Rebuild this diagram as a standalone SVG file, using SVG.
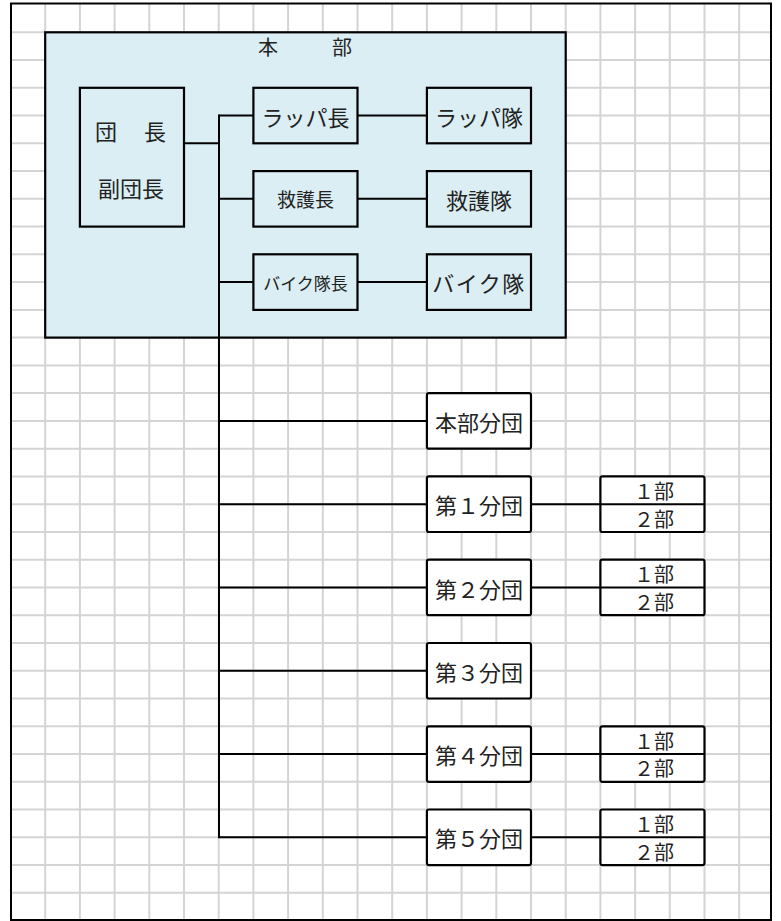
<svg xmlns="http://www.w3.org/2000/svg" width="781" height="921" viewBox="0 0 781 921">
<style>
.grid line{stroke:#d4d4d4;stroke-width:2}
.box{stroke:#000;stroke-width:2.2}
.blue{fill:#daeef3}
.white{fill:#fff}
.conn line{stroke:#000;stroke-width:2}
text{font-family:"Noto Sans CJK JP","Noto Sans CJK SC",sans-serif;fill:#222;text-anchor:middle;dominant-baseline:central}
</style>
<rect x="0" y="0" width="781" height="921" fill="#fff"/>
<g class="grid" id="grid">
<line x1="45.2" y1="4" x2="45.2" y2="920"/>
<line x1="79.9" y1="4" x2="79.9" y2="920"/>
<line x1="114.6" y1="4" x2="114.6" y2="920"/>
<line x1="149.3" y1="4" x2="149.3" y2="920"/>
<line x1="184" y1="4" x2="184" y2="920"/>
<line x1="218.7" y1="4" x2="218.7" y2="920"/>
<line x1="253.4" y1="4" x2="253.4" y2="920"/>
<line x1="288.1" y1="4" x2="288.1" y2="920"/>
<line x1="322.8" y1="4" x2="322.8" y2="920"/>
<line x1="357.5" y1="4" x2="357.5" y2="920"/>
<line x1="392.2" y1="4" x2="392.2" y2="920"/>
<line x1="426.9" y1="4" x2="426.9" y2="920"/>
<line x1="461.6" y1="4" x2="461.6" y2="920"/>
<line x1="496.3" y1="4" x2="496.3" y2="920"/>
<line x1="531" y1="4" x2="531" y2="920"/>
<line x1="565.7" y1="4" x2="565.7" y2="920"/>
<line x1="600.4" y1="4" x2="600.4" y2="920"/>
<line x1="635.1" y1="4" x2="635.1" y2="920"/>
<line x1="669.8" y1="4" x2="669.8" y2="920"/>
<line x1="704.5" y1="4" x2="704.5" y2="920"/>
<line x1="739.2" y1="4" x2="739.2" y2="920"/>
<line x1="11" y1="32.3" x2="771" y2="32.3"/>
<line x1="11" y1="60" x2="771" y2="60"/>
<line x1="11" y1="87.8" x2="771" y2="87.8"/>
<line x1="11" y1="115.5" x2="771" y2="115.5"/>
<line x1="11" y1="143.3" x2="771" y2="143.3"/>
<line x1="11" y1="171.1" x2="771" y2="171.1"/>
<line x1="11" y1="198.8" x2="771" y2="198.8"/>
<line x1="11" y1="226.6" x2="771" y2="226.6"/>
<line x1="11" y1="254.3" x2="771" y2="254.3"/>
<line x1="11" y1="282.1" x2="771" y2="282.1"/>
<line x1="11" y1="309.9" x2="771" y2="309.9"/>
<line x1="11" y1="337.6" x2="771" y2="337.6"/>
<line x1="11" y1="365.4" x2="771" y2="365.4"/>
<line x1="11" y1="393.1" x2="771" y2="393.1"/>
<line x1="11" y1="420.9" x2="771" y2="420.9"/>
<line x1="11" y1="448.7" x2="771" y2="448.7"/>
<line x1="11" y1="476.4" x2="771" y2="476.4"/>
<line x1="11" y1="504.2" x2="771" y2="504.2"/>
<line x1="11" y1="532" x2="771" y2="532"/>
<line x1="11" y1="559.7" x2="771" y2="559.7"/>
<line x1="11" y1="587.5" x2="771" y2="587.5"/>
<line x1="11" y1="615.2" x2="771" y2="615.2"/>
<line x1="11" y1="643" x2="771" y2="643"/>
<line x1="11" y1="670.7" x2="771" y2="670.7"/>
<line x1="11" y1="698.5" x2="771" y2="698.5"/>
<line x1="11" y1="726.3" x2="771" y2="726.3"/>
<line x1="11" y1="754" x2="771" y2="754"/>
<line x1="11" y1="781.8" x2="771" y2="781.8"/>
<line x1="11" y1="809.5" x2="771" y2="809.5"/>
<line x1="11" y1="837.3" x2="771" y2="837.3"/>
<line x1="11" y1="865.1" x2="771" y2="865.1"/>
<line x1="11" y1="892.8" x2="771" y2="892.8"/>
</g>
<rect id="frame" x="11" y="3.5" width="760" height="916.5" fill="none" stroke="#000" stroke-width="2"/>
<g id="honbu">
<rect class="box blue" x="45.2" y="32.3" width="520.5" height="305.3"/>
<text font-size="20" y="46"><tspan x="268">本</tspan><tspan x="342">部</tspan></text>
</g>
<g class="conn" id="connectors">
<line x1="184" y1="143.3" x2="219" y2="143.3"/>
<line x1="219" y1="114.5" x2="219" y2="838"/>
<line x1="219" y1="115.5" x2="253.4" y2="115.5"/>
<line x1="219" y1="198.8" x2="253.4" y2="198.8"/>
<line x1="219" y1="282.1" x2="253.4" y2="282.1"/>
<line x1="357.5" y1="115.5" x2="426.9" y2="115.5"/>
<line x1="357.5" y1="198.8" x2="426.9" y2="198.8"/>
<line x1="357.5" y1="282.1" x2="426.9" y2="282.1"/>
<line x1="219" y1="420.9" x2="426.9" y2="420.9"/>
<line x1="219" y1="504.2" x2="426.9" y2="504.2"/>
<line x1="219" y1="587.5" x2="426.9" y2="587.5"/>
<line x1="219" y1="670.7" x2="426.9" y2="670.7"/>
<line x1="219" y1="754" x2="426.9" y2="754"/>
<line x1="218" y1="837.3" x2="426.9" y2="837.3"/>
<line x1="531" y1="504.2" x2="600.4" y2="504.2"/>
<line x1="531" y1="587.5" x2="600.4" y2="587.5"/>
<line x1="531" y1="754" x2="600.4" y2="754"/>
<line x1="531" y1="837.3" x2="600.4" y2="837.3"/>
</g>
<g id="danchou">
<rect class="box blue" x="79.9" y="87.8" width="104.1" height="138.8"/>
<text font-size="22" y="130"><tspan x="106">団</tspan><tspan x="155">長</tspan></text>
<text font-size="22" x="131" y="187">副団長</text>
</g>
<g id="rappachou">
<rect class="box blue" x="253.4" y="87.8" width="104.1" height="55.5"/>
<text font-size="22" x="305.5" y="115.5">ラッパ長</text>
</g>
<g id="rappatai">
<rect class="box blue" x="426.9" y="87.8" width="104.1" height="55.5"/>
<text font-size="22" x="479" y="115.5">ラッパ隊</text>
</g>
<g id="kyugochou">
<rect class="box blue" x="253.4" y="171.1" width="104.1" height="55.5"/>
<text font-size="19" x="305.5" y="198.8">救護長</text>
</g>
<g id="kyugotai">
<rect class="box blue" x="426.9" y="171.1" width="104.1" height="55.5"/>
<text font-size="22" x="479" y="198.8">救護隊</text>
</g>
<g id="baikutaichou">
<rect class="box blue" x="253.4" y="254.3" width="104.1" height="55.6"/>
<text font-size="17" x="305.5" y="282.1">バイク隊長</text>
</g>
<g id="baikutai">
<rect class="box blue" x="426.9" y="254.3" width="104.1" height="55.6"/>
<text font-size="22" x="479" y="282.1" letter-spacing="1.5">バイク隊</text>
</g>
<g id="honbubundan">
<rect class="box white" x="426.9" y="393.1" width="104.1" height="55.6" rx="2"/>
<text font-size="22" x="479" y="420.9">本部分団</text>
</g>
<g id="bundan1">
<rect class="box white" x="426.9" y="476.4" width="104.1" height="55.6" rx="2"/>
<text font-size="22" x="479" y="504.2">第１分団</text>
</g>
<g id="bu1">
<rect class="box white" x="600.4" y="476.4" width="104.1" height="55.6" rx="2"/>
<line x1="600.4" y1="504.2" x2="704.5" y2="504.2" stroke="#000" stroke-width="2"/>
<text font-size="20" x="654" y="490.5">１部</text>
<text font-size="20" x="654" y="518">２部</text>
</g>
<g id="bundan2">
<rect class="box white" x="426.9" y="559.7" width="104.1" height="55.5" rx="2"/>
<text font-size="22" x="479" y="587.5">第２分団</text>
</g>
<g id="bu2">
<rect class="box white" x="600.4" y="559.7" width="104.1" height="55.5" rx="2"/>
<line x1="600.4" y1="587.5" x2="704.5" y2="587.5" stroke="#000" stroke-width="2"/>
<text font-size="20" x="654" y="573.8">１部</text>
<text font-size="20" x="654" y="601.3">２部</text>
</g>
<g id="bundan3">
<rect class="box white" x="426.9" y="643" width="104.1" height="55.5" rx="2"/>
<text font-size="22" x="479" y="670.7">第３分団</text>
</g>
<g id="bundan4">
<rect class="box white" x="426.9" y="726.3" width="104.1" height="55.5" rx="2"/>
<text font-size="22" x="479" y="754">第４分団</text>
</g>
<g id="bu4">
<rect class="box white" x="600.4" y="726.3" width="104.1" height="55.5" rx="2"/>
<line x1="600.4" y1="754" x2="704.5" y2="754" stroke="#000" stroke-width="2"/>
<text font-size="20" x="654" y="740.2">１部</text>
<text font-size="20" x="654" y="767.7">２部</text>
</g>
<g id="bundan5">
<rect class="box white" x="426.9" y="809.5" width="104.1" height="55.6" rx="2"/>
<text font-size="22" x="479" y="837.3">第５分団</text>
</g>
<g id="bu5">
<rect class="box white" x="600.4" y="809.5" width="104.1" height="55.6" rx="2"/>
<line x1="600.4" y1="837.3" x2="704.5" y2="837.3" stroke="#000" stroke-width="2"/>
<text font-size="20" x="654" y="823.5">１部</text>
<text font-size="20" x="654" y="851">２部</text>
</g>
</svg>
